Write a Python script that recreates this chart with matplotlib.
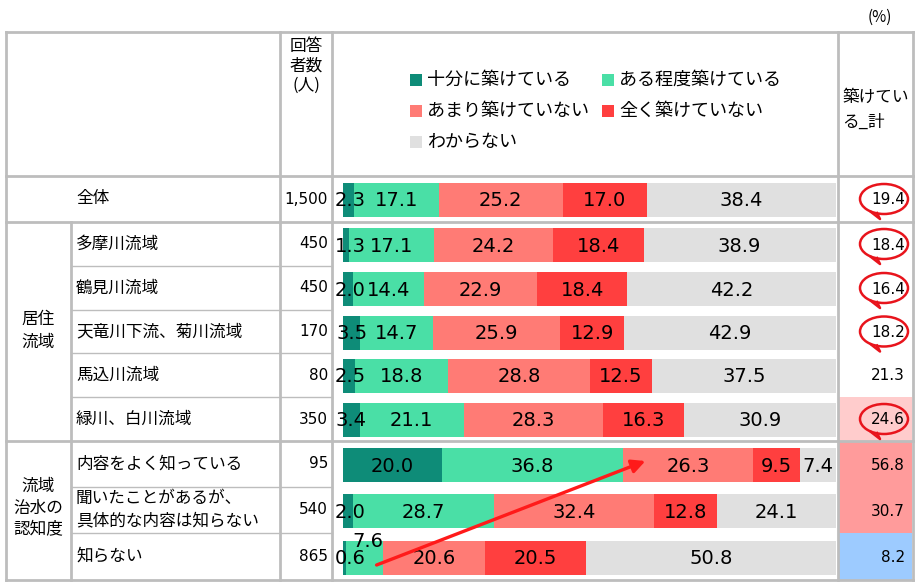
import matplotlib.pyplot as plt
from matplotlib.patches import Ellipse, Rectangle

plt.rcParams['font.family'] = ['Noto Sans CJK JP', 'DejaVu Sans']
NUM_FONT = ['DejaVu Sans', 'Noto Sans CJK JP']

# ---------- data ----------
row_labels = ['全体', '多摩川流域', '鶴見川流域', '天竜川下流、菊川流域', '馬込川流域',
              '緑川、白川流域', '内容をよく知っている', '聞いたことがあるが、\n具体的な内容は知らない', '知らない']
counts = ['1,500', '450', '450', '170', '80', '350', '95', '540', '865']
series_names = ['十分に築けている', 'ある程度築けている', 'あまり築けていない', '全く築けていない', 'わからない']
juubun = [2.3, 1.3, 2.0, 3.5, 2.5, 3.4, 20.0, 2.0, 0.6]
aru = [17.1, 17.1, 14.4, 14.7, 18.8, 21.1, 36.8, 28.7, 7.6]
amari = [25.2, 24.2, 22.9, 25.9, 28.8, 28.3, 26.3, 32.4, 20.6]
mattaku = [17.0, 18.4, 18.4, 12.9, 12.5, 16.3, 9.5, 12.8, 20.5]
wakaranai = [38.4, 38.9, 42.2, 42.9, 37.5, 30.9, 7.4, 24.1, 50.8]
kizuke_kei = [19.4, 18.4, 16.4, 18.2, 21.3, 24.6, 56.8, 30.7, 8.2]

colors = ['#0e8c78', '#4adfa6', '#ff7b75', '#ff3f3f', '#e0e0e0']
series = [juubun, aru, amari, mattaku, wakaranai]

# row layout (pixels)
bounds = [176, 222, 266, 310, 353, 397, 441, 487, 533, 580]
centers = [(bounds[i] + bounds[i + 1]) / 2 + 1 for i in range(9)]
circled = [0, 1, 2, 3, 5]
cell_bg = {5: '#ffcccc', 6: '#ff9b9b', 7: '#ff9b9b', 8: '#9dcbff'}

fig = plt.figure(figsize=(9.2, 5.85), dpi=100)
fig.patch.set_facecolor('white')

base = fig.add_axes([0, 0, 1, 1])
base.set_xlim(0, 920)
base.set_ylim(585, 0)
base.axis('off')

# cell backgrounds of total column
for i, c in cell_bg.items():
    base.add_patch(Rectangle((839, bounds[i]), 73, bounds[i + 1] - bounds[i], color=c, lw=0))

# table lines
lc = '#bdbdbd'
for y in [32, 176, 222, 441, 580]:
    base.plot([6, 913], [y, y], color=lc, lw=2)
for y in [266, 310, 353, 397, 487, 533]:
    base.plot([71, 332], [y, y], color=lc, lw=1)
for x in [6, 280, 332, 838, 913]:
    base.plot([x, x], [32, 580], color=lc, lw=2)
base.plot([71, 71], [222, 580], color=lc, lw=2)

# header texts
base.text(880, 17, '(%)', ha='center', va='center', fontsize=11)
base.text(306, 66, '回答\n者数\n(人)', ha='center', va='center', fontsize=12, linespacing=1.2)
base.text(842, 110, '築けてい\nる_計', ha='left', va='center', fontsize=12, linespacing=1.6)

# legend
leg_pos = [(410, 80), (602, 80), (410, 111), (602, 111), (410, 142)]
for (lx, ly), name, c in zip(leg_pos, series_names, colors):
    base.add_patch(Rectangle((lx, ly - 6), 12, 12, color=c, lw=0))
    base.text(lx + 17, ly, name, ha='left', va='center', fontsize=13)

# row labels and counts
for i, (lab, n) in enumerate(zip(row_labels, counts)):
    base.text(76, centers[i] - 1, lab, ha='left', va='center', fontsize=12, linespacing=1.4)
    base.text(328, centers[i] - 1, n, ha='right', va='center', fontsize=11, family=NUM_FONT)
base.text(38, 331, '居住\n流域', ha='center', va='center', fontsize=12, linespacing=1.4)
base.text(38, 508, '流域\n治水の\n認知度', ha='center', va='center', fontsize=12, linespacing=1.4)

# stacked bars
ax = fig.add_axes([343 / 920, 0, 493 / 920, 1])
ax.set_xlim(0, 100)
ax.set_ylim(585, 0)
ax.axis('off')
left = [0.0] * 9
for vals, c in zip(series, colors):
    ax.barh(centers, vals, left=left, height=34, color=c, lw=0)
    for i, v in enumerate(vals):
        x = max(left[i] + v / 2, 1.5)
        y = centers[i] + 1
        if i == 8 and v == 7.6:
            # label lifted above its thin segment, as in the original
            y -= 17
            x += 0.6
        ax.text(x, y, f'{v:.1f}', ha='center', va='center', fontsize=14, family=NUM_FONT)
    left = [l + v for l, v in zip(left, vals)]

# overlay: totals, circles, arrow
top = fig.add_axes([0, 0, 1, 1])
top.set_xlim(0, 920)
top.set_ylim(585, 0)
top.axis('off')
top.patch.set_alpha(0)
for i, v in enumerate(kizuke_kei):
    top.text(905, centers[i], f'{v:.1f}', ha='right', va='center', fontsize=11, family=NUM_FONT)
    if i in circled:
        top.add_patch(Ellipse((884, centers[i] - 1), 48, 30, fill=False, ec='#e8141c', lw=1.8))
        top.plot([871, 880, 877], [centers[i] + 12, centers[i] + 19, centers[i] + 13],
                 color='#e8141c', lw=1.8)
top.annotate('', xy=(648, 460), xytext=(374, 566),
             arrowprops=dict(arrowstyle='-|>', color='#ff1a1a', lw=2.4, mutation_scale=20))

fig.savefig('out.png', dpi=100)
